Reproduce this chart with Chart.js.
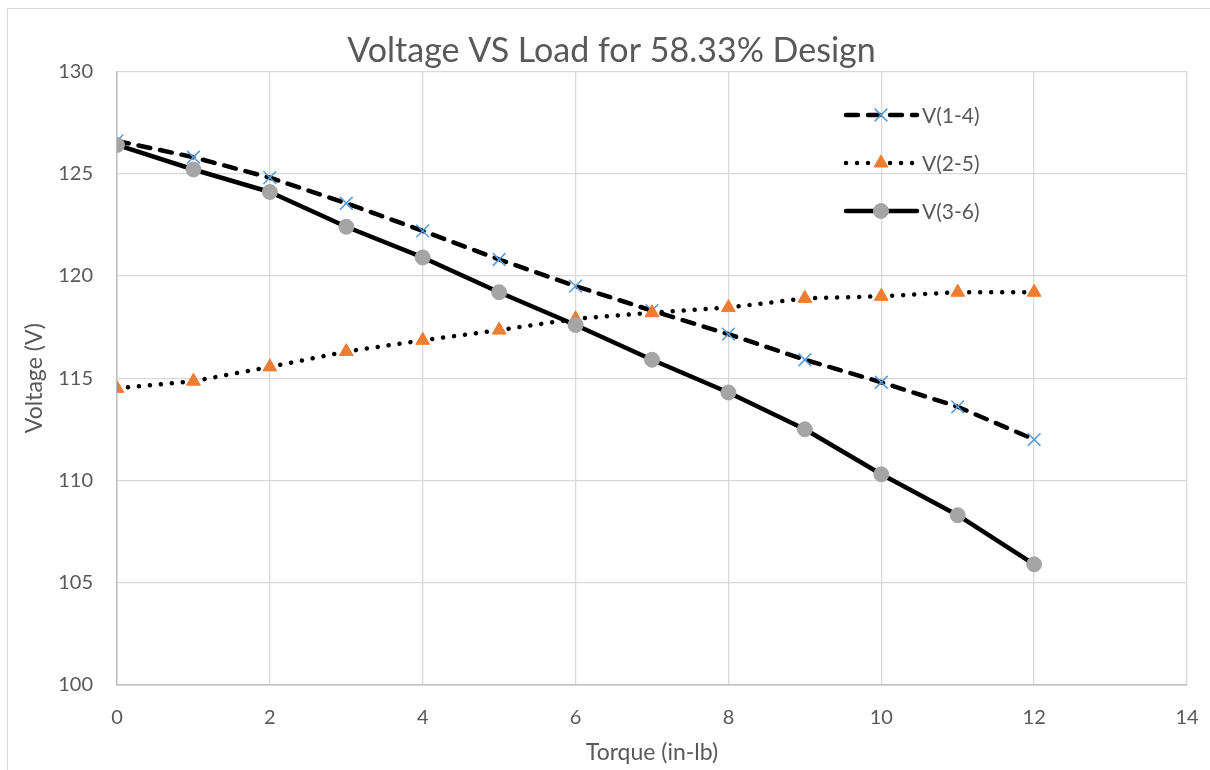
<!DOCTYPE html>
<html>
<head>
<meta charset="utf-8">
<script src="https://cdn.jsdelivr.net/npm/chart.js@4.4.1/dist/chart.umd.min.js"></script>
<style>
  html, body { margin: 0; padding: 0; background: #ffffff; }
  #wrap { position: relative; width: 1210px; height: 770px; overflow: hidden; }
  #frame { position: absolute; left: 7px; top: 8px; width: 1300px; height: 900px;
           border-left: 1px solid #d9d9d9; border-top: 1px solid #d9d9d9; box-sizing: border-box; }
  #c { position: absolute; left: 0; top: 0; }
</style>
</head>
<body>
<div id="wrap">
  <div id="frame"></div>
  <canvas id="c" width="1210" height="770"></canvas>
</div>
<script>
// ---- data ----
const torque = [0, 1, 2, 3, 4, 5, 6, 7, 8, 9, 10, 11, 12];
const v14 = [126.6, 125.8, 124.8, 123.55, 122.2, 120.8, 119.5, 118.3, 117.15, 115.9, 114.8, 113.6, 112.0];
const v25 = [114.5, 114.85, 115.55, 116.3, 116.85, 117.35, 117.9, 118.2, 118.45, 118.9, 119.0, 119.2, 119.2];
const v36 = [126.4, 125.2, 124.1, 122.4, 120.9, 119.2, 117.6, 115.9, 114.3, 112.5, 110.3, 108.3, 105.9];
const seriesNames = ['V(1-4)', 'V(2-5)', 'V(3-6)'];
const xTickRange = { min: 0, max: 14, step: 2 };
const yTickRange = { min: 100, max: 130, step: 5 };
const titleText = 'Voltage VS Load for 58.33% Design';
const xTitle = 'Torque (in-lb)';
const yTitle = 'Voltage (V)';

const FONT = 'Lato, "Open Sans", sans-serif';
const TEXT = '#595959';

function pts(ys) { return torque.map((x, i) => ({ x: x, y: ys[i] })); }

// legend drawn inside the plot, top-right
const legendPlugin = {
  id: 'insideLegend',
  afterDatasetsDraw(chart) {
    const ctx = chart.ctx;
    const rows = [115, 163, 211];
    const x0 = 846, x1 = 917, xm = 881, xt = 922;
    chart.data.datasets.forEach((ds, i) => {
      const y = rows[i];
      ctx.save();
      ctx.strokeStyle = ds.borderColor;
      ctx.lineWidth = ds.borderWidth;
      ctx.lineCap = ds.borderCapStyle || 'butt';
      ctx.setLineDash(ds.borderDash || []);
      ctx.beginPath();
      ctx.moveTo(x0, y);
      ctx.lineTo(x1, y);
      ctx.stroke();
      ctx.setLineDash([]);
      // marker
      const r = ds.pointRadius;
      ctx.fillStyle = ds.pointBackgroundColor;
      ctx.strokeStyle = ds.pointBorderColor;
      ctx.lineWidth = ds.pointBorderWidth;
      ctx.lineCap = 'butt';
      if (ds.pointStyle === 'circle') {
        ctx.beginPath(); ctx.arc(xm, y, r, 0, Math.PI * 2); ctx.fill(); ctx.stroke();
      } else if (ds.pointStyle === 'triangle') {
        ctx.beginPath();
        for (let k = 0; k < 3; k++) {
          const a = -Math.PI / 2 + k * 2 * Math.PI / 3;
          const px = xm + Math.cos(a) * r, py = y + Math.sin(a) * r;
          if (k === 0) ctx.moveTo(px, py); else ctx.lineTo(px, py);
        }
        ctx.closePath(); ctx.fill(); ctx.stroke();
      } else if (ds.pointStyle === 'crossRot') {
        const d = Math.cos(Math.PI / 4) * r;
        ctx.beginPath();
        ctx.moveTo(xm - d, y - d); ctx.lineTo(xm + d, y + d);
        ctx.moveTo(xm - d, y + d); ctx.lineTo(xm + d, y - d);
        ctx.stroke();
      }
      ctx.fillStyle = TEXT;
      ctx.font = '21px ' + FONT;
      ctx.textBaseline = 'middle';
      ctx.textAlign = 'left';
      ctx.fillText(ds.label, xt, y + 1);
      ctx.restore();
    });
  }
};

new Chart(document.getElementById('c'), {
  type: 'line',
  data: {
    datasets: [
      {
        label: seriesNames[0], data: pts(v14), order: 2,
        borderColor: '#000000', borderWidth: 4.5, borderDash: [12, 10], borderCapStyle: 'round',
        pointStyle: 'crossRot', pointRadius: 9, pointBorderWidth: 1.5,
        pointBackgroundColor: '#5b9bd5', pointBorderColor: '#5b9bd5', tension: 0
      },
      {
        label: seriesNames[1], data: pts(v25), order: 1,
        borderColor: '#000000', borderWidth: 4.5, borderDash: [0.01, 11], borderCapStyle: 'round',
        pointStyle: 'triangle', pointRadius: 8, pointBorderWidth: 1,
        pointBackgroundColor: '#ed7d31', pointBorderColor: '#ed7d31', tension: 0
      },
      {
        label: seriesNames[2], data: pts(v36), order: 0,
        borderColor: '#000000', borderWidth: 4.5, borderCapStyle: 'round', borderJoinStyle: 'round',
        pointStyle: 'circle', pointRadius: 7.5, pointBorderWidth: 1,
        pointBackgroundColor: '#a5a5a5', pointBorderColor: '#a5a5a5', tension: 0
      }
    ]
  },
  options: {
    responsive: false,
    animation: false,
    layout: { padding: { left: 36, right: 23, top: 0, bottom: 0 } },
    plugins: {
      legend: { display: false },
      tooltip: { enabled: false },
      title: {
        display: true, text: titleText, color: TEXT,
        font: { family: FONT, size: 34, weight: 'normal', lineHeight: 1.2 },
        padding: { top: 30.5, bottom: 0 }
      }
    },
    scales: {
      x: {
        type: 'linear', min: xTickRange.min, max: xTickRange.max,
        ticks: { stepSize: xTickRange.step, color: TEXT, font: { family: FONT, size: 20 }, padding: 21, maxRotation: 0 },
        grid: { color: '#d9d9d9', lineWidth: 1.3, drawTicks: false },
        border: { color: '#bfbfbf', width: 1.5 },
        title: { display: true, text: xTitle, color: TEXT, font: { family: FONT, size: 23 }, padding: { top: 0, bottom: 4 } },
        afterFit(s) { s.height = 85; s.paddingLeft = 0; s.paddingRight = 0; }
      },
      y: {
        min: yTickRange.min, max: yTickRange.max,
        ticks: { stepSize: yTickRange.step, color: TEXT, font: { family: FONT, size: 20 }, padding: 24 },
        grid: { color: '#d9d9d9', lineWidth: 1.3, drawTicks: false },
        border: { color: '#bfbfbf', width: 1.5 },
        title: { display: true, text: yTitle, color: TEXT, font: { family: FONT, size: 23 }, padding: { top: -15, bottom: 0 } },
        afterFit(s) { s.width = 81; s.paddingTop = 0; s.paddingBottom = 0; }
      }
    }
  },
  plugins: [legendPlugin]
});
</script>
</body>
</html>
